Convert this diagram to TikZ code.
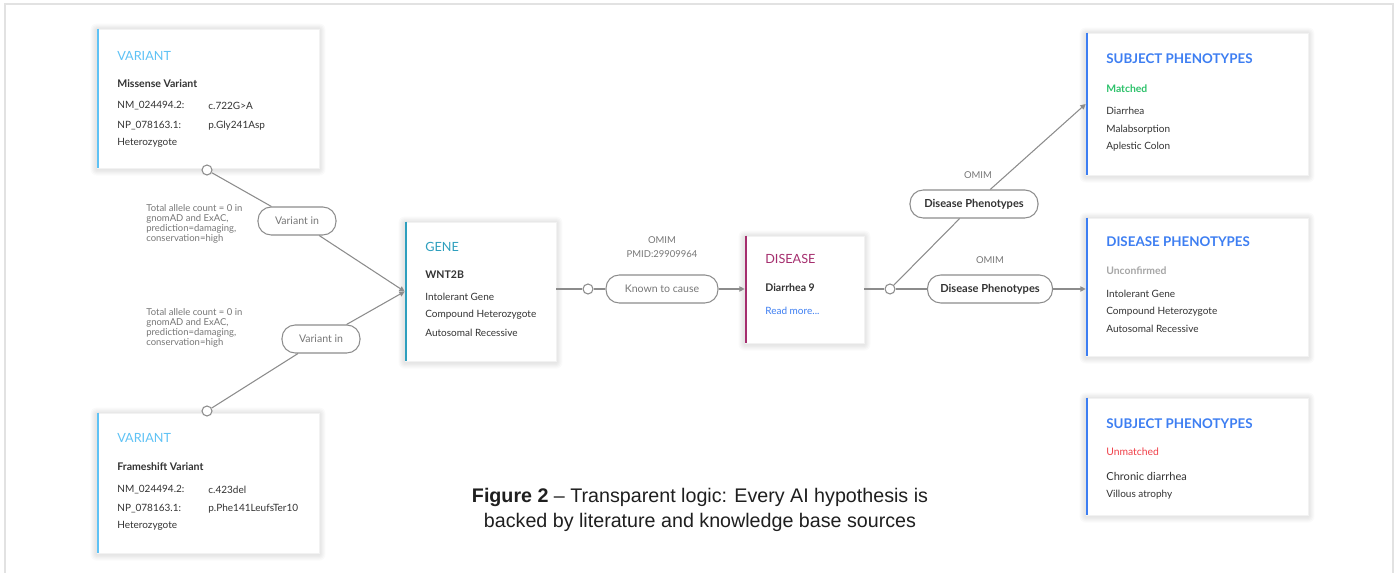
\documentclass[tikz,border=0pt]{standalone}
\usepackage{fontspec}
\setmainfont{Lato}
\newfontfamily\capfont{Liberation Sans}
\usetikzlibrary{arrows.meta}
\definecolor{varblue}{HTML}{5EC2F5}
\definecolor{geneteal}{HTML}{2E9FBE}
\definecolor{dismag}{HTML}{A52E6E}
\definecolor{phblue}{HTML}{3D7EF2}
\definecolor{okgreen}{HTML}{2DC26B}
\definecolor{badred}{HTML}{F0414A}
\definecolor{txt}{HTML}{333333}
\definecolor{soft}{HTML}{777777}
\definecolor{linegray}{HTML}{8C8C8C}
\definecolor{framegray}{HTML}{E2E2E2}
\pgfdeclarelayer{bg}
\pgfsetlayers{bg,main}
\newcommand\softshade[1]{%
  \begin{pgfonlayer}{bg}
  \foreach \s in {0.7,1.4,2.1,2.8,3.5}{%
    \fill[black, opacity=0.02, rounded corners=\s pt]
      ([shift={({-\s pt},{-\s pt-0.6pt})}]#1.south west) rectangle
      ([shift={({\s pt},{\s pt-0.6pt})}]#1.north east);}
  \end{pgfonlayer}}
\tikzset{
  box/.style={draw=black!5, fill=white, inner sep=0pt, line width=0.4pt},
  accent/.style={line width=1.6pt},
  t/.style={anchor=west, inner sep=0pt, font=\fontsize{5.7}{6.5}\selectfont, text=txt},
  tb/.style={t, font=\fontsize{6}{7}\selectfont\bfseries},
  th/.style={t, font=\fontsize{7.2}{8}\selectfont},
  thb/.style={t, font=\fontsize{7.6}{8}\selectfont\bfseries},
  note/.style={inner sep=0pt, font=\fontsize{5.4}{5.8}\selectfont, text=soft},
  pill/.style={draw=linegray, fill=white, rounded corners=7.5pt, inner sep=0pt, minimum height=0.56cm, line width=0.6pt, text=soft, font=\fontsize{6}{7}\selectfont},
  pillb/.style={pill, text=txt, font=\fontsize{6.3}{7}\selectfont\bfseries},
  dot/.style={circle, draw=linegray, fill=white, minimum size=0.2cm, inner sep=0pt, line width=0.6pt},
  conn/.style={draw=linegray, line width=0.6pt},
  arr/.style={conn, -{Triangle[length=3pt,width=3pt]}}
}
\begin{document}
\begin{tikzpicture}[x=0.02cm,y=-0.02cm]
\useasboundingbox (0,0) rectangle (1399,573);
\begin{pgfonlayer}{bg}
\fill[white] (0,0) rectangle (1399,573);
\draw[framegray, line width=0.8pt] (5,573) -- (5,4) -- (1393,4) -- (1393,573);
\end{pgfonlayer}

% boxes
\node[box, minimum width=4.44cm, minimum height=2.78cm] (v1) at (208,98.5) {};
\node[box, minimum width=4.44cm, minimum height=2.80cm] (v2) at (208,483) {};
\node[box, minimum width=3.02cm, minimum height=2.78cm] (gene) at (480.5,291.5) {};
\node[box, minimum width=2.38cm, minimum height=2.14cm] (dis) at (804.5,289.5) {};
\node[box, minimum width=4.44cm, minimum height=2.84cm] (sp1) at (1197,104) {};
\node[box, minimum width=4.44cm, minimum height=2.76cm] (dp) at (1197,287) {};
\node[box, minimum width=4.44cm, minimum height=2.34cm] (sp2) at (1197,456.5) {};
\softshade{v1}\softshade{v2}\softshade{gene}\softshade{dis}\softshade{sp1}\softshade{dp}\softshade{sp2}

\draw[accent, varblue] ([xshift=0.8pt]v1.north west) -- ([xshift=0.8pt]v1.south west);
\draw[accent, varblue] ([xshift=0.8pt]v2.north west) -- ([xshift=0.8pt]v2.south west);
\draw[accent, geneteal] ([xshift=0.8pt]gene.north west) -- ([xshift=0.8pt]gene.south west);
\draw[accent, dismag] ([xshift=0.8pt]dis.north west) -- ([xshift=0.8pt]dis.south west);
\draw[accent, phblue] ([xshift=0.8pt]sp1.north west) -- ([xshift=0.8pt]sp1.south west);
\draw[accent, phblue] ([xshift=0.8pt]dp.north west) -- ([xshift=0.8pt]dp.south west);
\draw[accent, phblue] ([xshift=0.8pt]sp2.north west) -- ([xshift=0.8pt]sp2.south west);

% variant 1 text
\node[th, text=varblue] (v1a) at (117,56) {VARIANT};
\node[tb] (v1b) at (117,84) {Missense Variant};
\node[t] (v1c) at (117,106) {NM\_024494.2:};
\node[t] (v1d) at (208,106) {c.722G>A};
\node[t] (v1e) at (117,126) {NP\_078163.1:};
\node[t] (v1f) at (208,126) {p.Gly241Asp};
\node[t] (v1g) at (117,143) {Heterozygote};

% variant 2 text
\node[th, text=varblue] (v2a) at (117,438) {VARIANT};
\node[tb] (v2b) at (117,467) {Frameshift Variant};
\node[t] (v2c) at (117,490) {NM\_024494.2:};
\node[t] (v2d) at (208,490) {c.423del};
\node[t] (v2e) at (117,509) {NP\_078163.1:};
\node[t] (v2f) at (208,509) {p.Phe141LeufsTer10};
\node[t] (v2g) at (117,526) {Heterozygote};

% gene text
\node[th, text=geneteal] (ga) at (425,247) {GENE};
\node[tb] (gb) at (425,275) {WNT2B};
\node[t] (gc) at (425,297) {Intolerant Gene};
\node[t] (gd) at (425,315) {Compound Heterozygote};
\node[t] (ge) at (425,333) {Autosomal Recessive};

% disease text
\node[th, text=dismag] (da) at (765,259) {DISEASE};
\node[tb] (db) at (765,288) {Diarrhea 9};
\node[t, text=phblue] (dc) at (765,311) {Read more...};

% subject phenotypes 1
\node[thb, text=phblue] (s1a) at (1106,59) {SUBJECT PHENOTYPES};
\node[t, text=okgreen, font=\fontsize{5.9}{7}\selectfont\bfseries] (s1b) at (1106,89) {Matched};
\node[t] (s1c) at (1106,111) {Diarrhea};
\node[t] (s1d) at (1106,130) {Malabsorption};
\node[t] (s1e) at (1106,147) {Aplestic Colon};

% disease phenotypes
\node[thb, text=phblue] (dpa) at (1106,242) {DISEASE PHENOTYPES};
\node[t, text=black!35, font=\fontsize{5.9}{7}\selectfont\bfseries] (dpb) at (1106,271) {Unconfirmed};
\node[t] (dpc) at (1106,294) {Intolerant Gene};
\node[t] (dpd) at (1106,312) {Compound Heterozygote};
\node[t] (dpe) at (1106,329) {Autosomal Recessive};

% subject phenotypes 2
\node[thb, text=phblue] (s2a) at (1106,424) {SUBJECT PHENOTYPES};
\node[t, text=badred, font=\fontsize{5.9}{7}\selectfont] (s2b) at (1106,452) {Unmatched};
\node[t, font=\fontsize{6.3}{7}\selectfont] (s2c) at (1106,476) {Chronic diarrhea};
\node[t] (s2d) at (1106,495) {Villous atrophy};

% dots and pills
\node[dot] (c1) at (207,170) {};
\node[dot] (c2) at (207,411) {};
\node[dot] (c3) at (588,289) {};
\node[dot] (c4) at (890,289) {};
\node[pill, minimum width=1.56cm] (p1) at (297,221) {Variant in};
\node[pill, minimum width=1.56cm] (p2) at (321,339) {Variant in};
\node[pill, minimum width=2.24cm] (k) at (662,289) {Known to cause};
\node[pillb, minimum width=2.56cm] (d1) at (974,204) {Disease Phenotypes};
\node[pillb, minimum width=2.50cm] (d2) at (990,289) {Disease Phenotypes};

% connectors
\draw[conn] (c1) -- (p1);
\draw[arr] (p1) -- (gene.west);
\draw[conn] (c2) -- (p2);
\draw[arr] (p2) -- (gene.west);
\draw[conn] (gene.east |- c3) -- (c3);
\draw[conn] (c3) -- (k);
\draw[arr] (k) -- (dis.west |- k);
\draw[conn] (dis.east |- c4) -- (c4);
\draw[conn] (c4) -- (d1);
\draw[arr] (d1) -- (sp1.west);
\draw[conn] (c4) -- (d2);
\draw[arr] (d2) -- (dp.west |- d2);

% notes
\node[note, align=left, anchor=north west] (n1) at (146,204) {Total allele count = 0 in\\gnomAD and ExAC,\\prediction=damaging,\\conservation=high};
\node[note, align=left, anchor=north west] (n2) at (146,308) {Total allele count = 0 in\\gnomAD and ExAC,\\prediction=damaging,\\conservation=high};
\node[note, align=center] (o1) at (662,240) {OMIM};
\node[note] (o2) at (662,254) {PMID:29909964};
\node[note] (o3) at (978,175) {OMIM};
\node[note] (o4) at (990,260) {OMIM};

% caption
\node[font=\capfont\fontsize{11.2}{14.2}\selectfont, align=center, text=black!88, inner sep=0pt] (cap) at (700,509.5) {\textbf{Figure 2} – Transparent logic: Every AI hypothesis is\\backed by literature and knowledge base sources};
\end{tikzpicture}
\end{document}
